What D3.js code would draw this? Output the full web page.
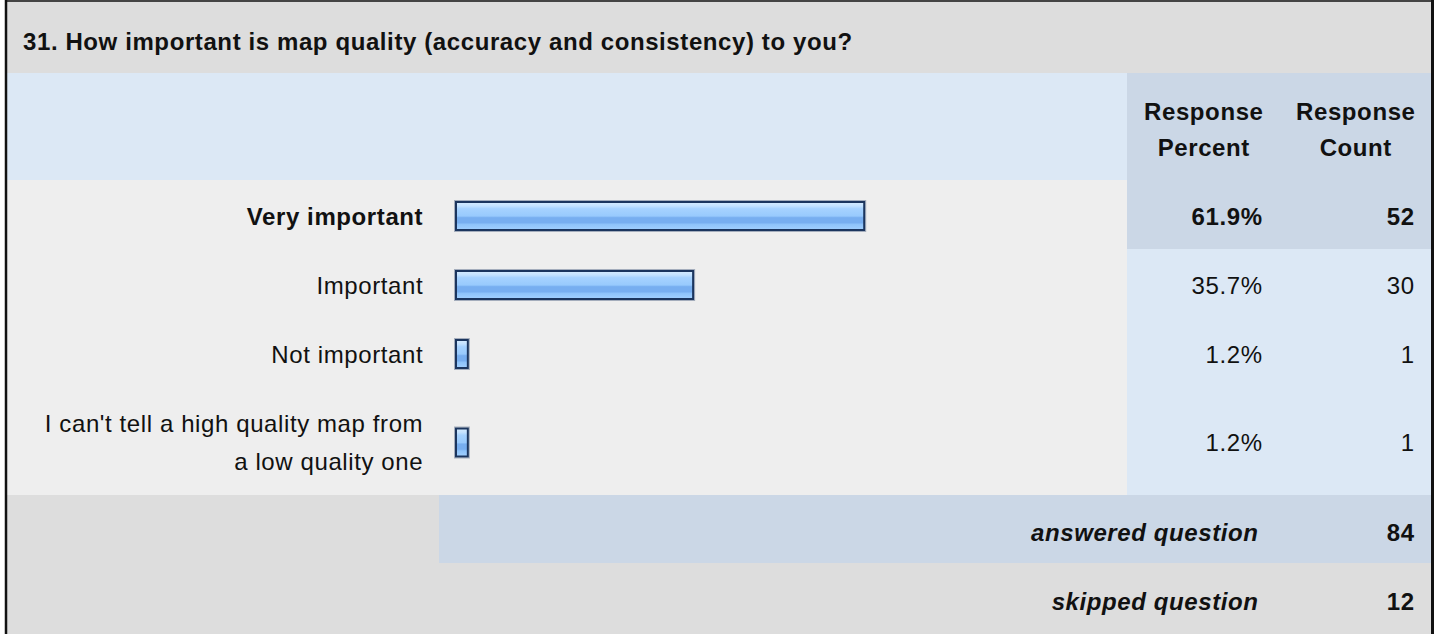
<!DOCTYPE html>
<html>
<head>
<meta charset="utf-8">
<script src="https://cdn.jsdelivr.net/npm/d3@7"></script>
<style>
  html, body { margin: 0; padding: 0; background: #ffffff; }
  svg { display: block; }
  text { font-family: "Liberation Sans", Arial, Helvetica, sans-serif; fill: #111; letter-spacing: 0.6px; }
</style>
</head>
<body>
<svg id="chart" width="1437" height="634"></svg>
<script>
// Survey question 31 — response summary
const questionTitle = "31. How important is map quality (accuracy and consistency) to you?";
const columnHeaders = [["Response", "Percent"], ["Response", "Count"]];
const answerLabels = [
  ["Very important"],
  ["Important"],
  ["Not important"],
  ["I can't tell a high quality map from", "a low quality one"]
];
const responsePercent = [61.9, 35.7, 1.2, 1.2];
const responseCount = [52, 30, 1, 1];
const highlighted = [true, false, false, false];
const answeredQuestion = 84;
const skippedQuestion = 12;

// Layout
const box = { left: 5, right: 1434 };
const inner = { left: 7, right: 1431 };
const titleH = 73, headH = 107, rowBase = 69, lineStep = 38, extraLine = 39, footH = 68;
const pctCol = { x0: 1127, x1: 1280 };
const cntCol = { x0: 1280, x1: 1431 };
const labelRight = 422.6;
const barLeft = 455;
const fontSize = 24;
const trail = 0.6; // trailing letter-spacing compensation for end-anchored text

const col = {
  title: "#dddddd",
  head: "#dce8f5",
  headDark: "#cbd7e6",
  body: "#eeeeee",
  cellLight: "#dce8f5",
  cellDark: "#cbd7e6",
  foot: "#dddddd"
};

const svg = d3.select("#chart");

// Bar gradient
const defs = svg.append("defs");
const grad = defs.append("linearGradient").attr("id", "barFill")
  .attr("x1", 0).attr("y1", 0).attr("x2", 0).attr("y2", 1);
[
  [0, "#d6ecff"], [0.14, "#c4e2ff"], [0.24, "#a6d2ff"], [0.5, "#98cafd"],
  [0.56, "#77aef0"], [0.74, "#77aef0"], [0.8, "#8ec3fa"], [1, "#a2d0ff"]
].forEach(([o, c]) => grad.append("stop").attr("offset", o).attr("stop-color", c));

// Row geometry derived from label line counts
const rowHeights = answerLabels.map(l => rowBase + (l.length - 1) * extraLine);
const rowTop = [];
let yCursor = titleH + headH;
rowHeights.forEach(h => { rowTop.push(yCursor); yCursor += h; });
const bodyBottom = yCursor;

const x = d3.scaleLinear().domain([0, 100]).range([0, 653]);
const barStub = 6;
const barH = 30;

// Title band
svg.append("rect").attr("x", inner.left).attr("y", 0).attr("width", inner.right - inner.left)
  .attr("height", titleH).attr("fill", col.title);
svg.append("text").attr("x", 23).attr("y", titleH / 2 + 13.5)
  .attr("font-size", fontSize).attr("font-weight", "bold").text(questionTitle);

// Column header band
svg.append("rect").attr("x", inner.left).attr("y", titleH).attr("width", pctCol.x0 - inner.left)
  .attr("height", headH).attr("fill", col.head);
svg.append("rect").attr("x", pctCol.x0).attr("y", titleH).attr("width", inner.right - pctCol.x0)
  .attr("height", headH).attr("fill", col.headDark);
[pctCol, cntCol].forEach((c, i) => {
  const cy = titleH + headH / 2;
  const t = svg.append("text").attr("text-anchor", "middle").attr("font-size", fontSize)
    .attr("font-weight", "bold");
  columnHeaders[i].forEach((s, k) => {
    t.append("tspan").attr("x", (c.x0 + c.x1) / 2 + trail / 2)
      .attr("y", cy + 11 - 18 + k * 36).text(s);
  });
});

// Answer rows
const rows = svg.append("g").selectAll("g").data(answerLabels).join("g");
rows.append("rect").attr("x", inner.left).attr("y", (d, i) => rowTop[i])
  .attr("width", pctCol.x0 - inner.left).attr("height", (d, i) => rowHeights[i]).attr("fill", col.body);
rows.append("rect").attr("x", pctCol.x0).attr("y", (d, i) => rowTop[i])
  .attr("width", inner.right - pctCol.x0).attr("height", (d, i) => rowHeights[i])
  .attr("fill", (d, i) => highlighted[i] ? col.cellDark : col.cellLight);

const rowMid = i => rowTop[i] + rowHeights[i] / 2;
const rowBaseline = i => rowMid(i) + 10;

// Labels
rows.append("text").attr("text-anchor", "end").attr("font-size", fontSize)
  .attr("font-weight", (d, i) => highlighted[i] ? "bold" : "normal")
  .each(function (d, i) {
    const n = d.length;
    d.forEach((s, k) => {
      d3.select(this).append("tspan").attr("x", labelRight + trail)
        .attr("y", rowBaseline(i) - (n - 1) * lineStep / 2 + k * lineStep)
        .text(s);
    });
  });

// Bars
const barW = i => x(responsePercent[i]) + barStub;
const barTop = i => rowMid(i) + 1.5 - barH / 2;
rows.append("rect")
  .attr("x", barLeft - 0.5).attr("y", (d, i) => barTop(i) - 0.5)
  .attr("width", (d, i) => barW(i) + 1).attr("height", barH + 1)
  .attr("fill", "none").attr("stroke", "#1b355e").attr("stroke-opacity", 0.35).attr("stroke-width", 1);
rows.append("rect")
  .attr("x", barLeft + 1).attr("y", (d, i) => barTop(i) + 1)
  .attr("width", (d, i) => barW(i) - 2).attr("height", barH - 2)
  .attr("fill", "url(#barFill)").attr("stroke", "#1b355e").attr("stroke-width", 2);

// Percent and count
rows.append("text").attr("text-anchor", "end").attr("font-size", fontSize)
  .attr("font-weight", (d, i) => highlighted[i] ? "bold" : "normal")
  .attr("x", pctCol.x1 - 18 + trail).attr("y", (d, i) => rowBaseline(i))
  .text((d, i) => responsePercent[i].toFixed(1) + "%");
rows.append("text").attr("text-anchor", "end").attr("font-size", fontSize)
  .attr("font-weight", (d, i) => highlighted[i] ? "bold" : "normal")
  .attr("x", cntCol.x1 - 17 + trail).attr("y", (d, i) => rowBaseline(i))
  .text((d, i) => responseCount[i]);

// Footer: answered / skipped
const footer = [
  { label: "answered question", value: answeredQuestion, y: bodyBottom, h: footH, split: true },
  { label: "skipped question", value: skippedQuestion, y: bodyBottom + footH, h: 634 - bodyBottom - footH, split: false }
];
footer.forEach(f => {
  svg.append("rect").attr("x", inner.left).attr("y", f.y).attr("width", inner.right - inner.left)
    .attr("height", f.h).attr("fill", col.foot);
  if (f.split) {
    svg.append("rect").attr("x", 439).attr("y", f.y).attr("width", inner.right - 439)
      .attr("height", f.h).attr("fill", col.cellDark);
  }
  const ty = f.y + f.h / 2 + 11.5;
  svg.append("text").attr("text-anchor", "end").attr("font-size", fontSize)
    .attr("font-weight", "bold").attr("font-style", "italic")
    .attr("x", pctCol.x1 - 22 + trail).attr("y", ty).text(f.label);
  svg.append("text").attr("text-anchor", "end").attr("font-size", fontSize)
    .attr("font-weight", "bold").attr("x", cntCol.x1 - 17 + trail).attr("y", ty).text(f.value);
});

// Outer frame
svg.append("line").attr("x1", box.left).attr("x2", box.right).attr("y1", 1).attr("y2", 1)
  .attr("stroke", "#444").attr("stroke-width", 2);
svg.append("line").attr("x1", 6).attr("x2", 6).attr("y1", 0).attr("y2", 634)
  .attr("stroke", "#111").attr("stroke-width", 2.5);
svg.append("line").attr("x1", 1432.5).attr("x2", 1432.5).attr("y1", 0).attr("y2", 634)
  .attr("stroke", "#111").attr("stroke-width", 3);
</script>
</body>
</html>
